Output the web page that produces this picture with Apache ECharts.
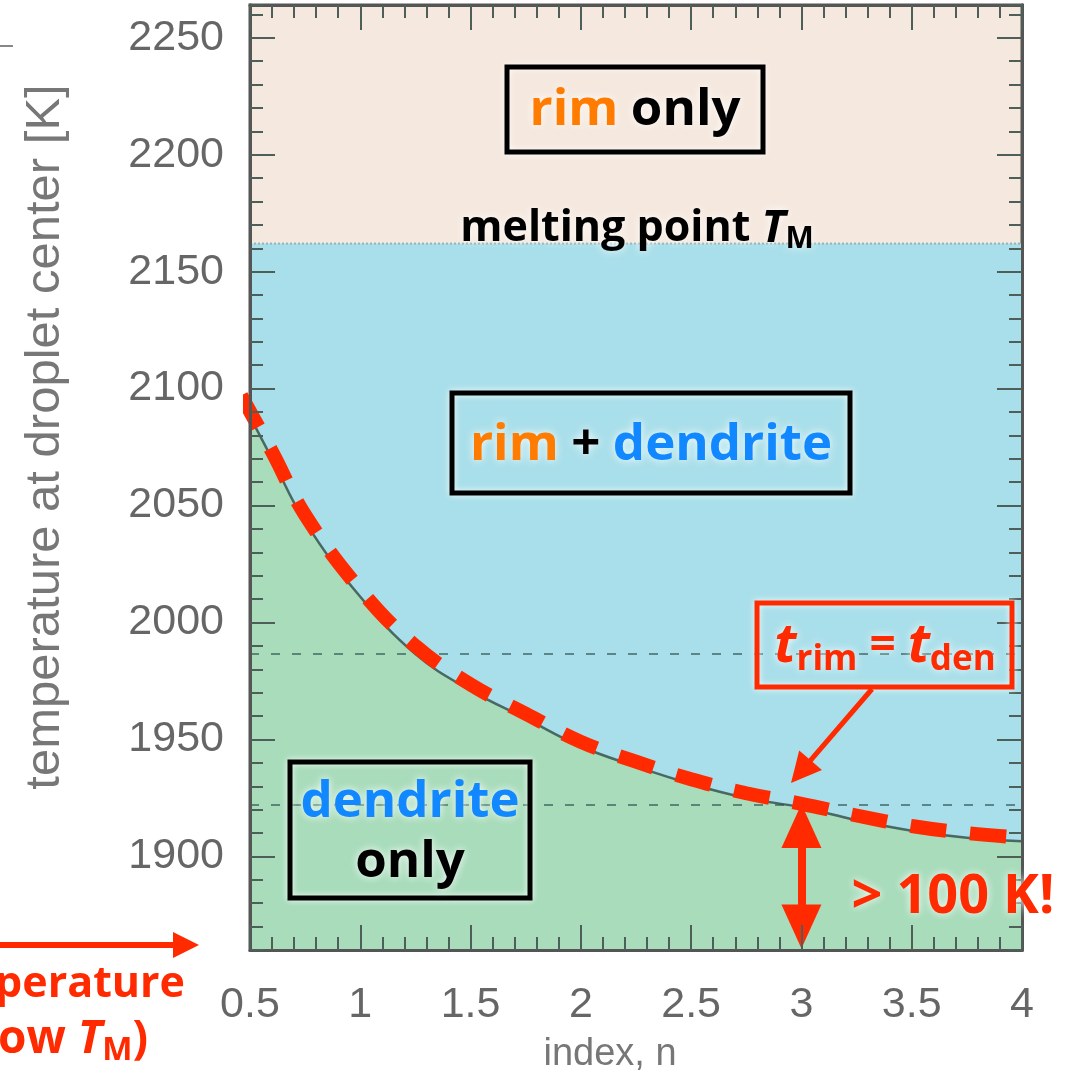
<!DOCTYPE html>
<html>
<head>
<meta charset="utf-8">
<script src="https://cdn.jsdelivr.net/npm/echarts@6/dist/echarts.min.js"></script>
<style>
  html, body { margin: 0; padding: 0; background: #fff; }
  #chart { width: 1075px; height: 1085px; }
</style>
</head>
<body>
<div id="chart"></div>
<script>
// boundary t_rim = t_den
const nBoundary = [0.5, 0.6, 0.75, 1, 1.25, 1.5, 1.75, 2, 2.25, 2.5, 2.75, 3, 3.25, 3.5, 3.75, 4]
const tBoundary = [2088, 2070, 2043, 2011, 1986.5, 1971, 1959, 1947, 1938.5, 1931, 1925, 1921, 1915.5, 1911, 1908, 1906.5]
// hand drawn red dashed overlay
const nRed = [0.46, 0.6, 0.75, 1, 1.25, 1.5, 1.75, 2, 2.25, 2.5, 2.75, 3, 3.25, 3.5, 3.75, 4]
const tRed = [2097, 2073, 2046, 2014, 1990, 1973.5, 1961, 1949, 1940.5, 1933, 1927, 1922.5, 1917.5, 1913, 1910, 1908]
const meltingPoint = 2162
const guideLines = [1986.5, 1922]
const gapArrow = [3, 1913, 1870] // n, top, bottom of the "> 100 K" arrow
const yMin = 1860
const yMax = 2264
const yMajorTicks = [1900, 1950, 2000, 2050, 2100, 2150, 2200, 2250]

const RED = '#ff2a00'
const ORANGE = '#ff7c00'
const BLUE_TXT = '#1188ff'
const FONT = '"Open Sans", Lato, sans-serif'

function zip (xs, ys) {
  return xs.map((x, i) => [x, ys[i]])
}

function arrowHead (x1, y1, x2, y2, len, half) {
  const dx = x2 - x1
  const dy = y2 - y1
  const d = Math.sqrt(dx * dx + dy * dy)
  const ux = dx / d
  const uy = dy / d
  const bx = x2 - ux * len
  const by = y2 - uy * len
  return [[x2, y2], [bx - uy * half, by + ux * half], [bx + uy * half, by - ux * half]]
}

function arrow (x1, y1, x2, y2, width, len, half) {
  const head = arrowHead(x1, y1, x2, y2, len, half)
  const d = Math.hypot(x2 - x1, y2 - y1)
  const ex = x1 + (x2 - x1) * (d - len * 0.8) / d
  const ey = y1 + (y2 - y1) * (d - len * 0.8) / d
  return [
    { type: 'line', shape: { x1, y1, x2: ex, y2: ey }, style: { stroke: RED, lineWidth: width }, z: 100 },
    { type: 'polygon', shape: { points: head }, style: { fill: RED }, z: 100 }
  ]
}

const glow = { textShadowColor: 'rgba(255,255,255,0.95)', textShadowBlur: 8 }

function label (x, y, rich, text, align) {
  return {
    type: 'text',
    x,
    y,
    z: 100,
    style: Object.assign({
      text,
      rich,
      align: align || 'center',
      verticalAlign: 'middle',
      textAlign: align || 'center',
      textVerticalAlign: 'middle',
      font: 'bold 48px ' + FONT
    }, glow)
  }
}

function box (x, y, w, h, color) {
  return {
    type: 'rect',
    z: 99,
    shape: { x, y, width: w, height: h },
    style: { fill: 'none', stroke: color, lineWidth: 5, shadowColor: 'rgba(255,255,255,0.9)', shadowBlur: 6 }
  }
}

const tok = (size, color, extra) => Object.assign({
  fontSize: size, fontWeight: 'bold', fontFamily: FONT, fill: color, lineHeight: 60
}, glow, extra || {})

const richMain = {
  o: tok(51, ORANGE),
  k: tok(51, '#000'),
  b: tok(51, BLUE_TXT)
}
const richMelt = {
  k: tok(43, '#000', { lineHeight: 50 }),
  T: tok(45, '#000', { fontStyle: 'italic', lineHeight: 50 }),
  M: tok(30, '#000', { verticalAlign: 'bottom', lineHeight: 50 })
}
const richT = {
  t: tok(54, RED, { fontStyle: 'italic', lineHeight: 62 }),
  s: tok(35, RED, { verticalAlign: 'bottom', lineHeight: 62 }),
  e: tok(46, RED, { lineHeight: 62 })
}
const richLeft = {
  r: tok(43, RED, { lineHeight: 52 }),
  T: tok(43, RED, { fontStyle: 'italic', lineHeight: 52 }),
  M: tok(30, RED, { verticalAlign: 'bottom', lineHeight: 52 })
}
const richLeft2 = {
  r: tok(46, RED, { lineHeight: 54 }),
  T: tok(46, RED, { fontStyle: 'italic', lineHeight: 54 }),
  M: tok(32, RED, { verticalAlign: 'bottom', lineHeight: 54 })
}

const tickStyle = { color: '#4e5e58', width: 2 }
const labelStyle = { color: '#666', fontSize: 43, fontFamily: '"Liberation Sans", sans-serif' }

function yAxisDef (position, major, withLabels) {
  const ax = {
    type: 'value',
    position,
    min: yMin,
    max: yMax,
    z: 10,
    axisLine: { show: true, lineStyle: { color: '#555', width: 3 } },
    splitLine: { show: false },
    axisTick: { show: true, inside: true, length: major ? 25 : 13, lineStyle: tickStyle },
    axisLabel: { show: false }
  }
  if (major) {
    ax.axisTick.customValues = yMajorTicks
    ax.axisLabel = Object.assign({
      show: withLabels,
      customValues: yMajorTicks,
      margin: 26,
      formatter: v => String(v)
    }, labelStyle)
  } else {
    ax.interval = 10
  }
  return ax
}

function xAxisDef (position, withLabels) {
  return {
    type: 'value',
    position,
    min: 0.5,
    max: 4,
    interval: 0.5,
    z: 10,
    axisLine: { show: true, lineStyle: { color: '#555', width: 3 } },
    splitLine: { show: false },
    axisTick: { show: true, inside: true, length: 25, lineStyle: tickStyle },
    minorTick: { show: true, splitNumber: 5, length: 13, lineStyle: tickStyle },
    axisLabel: Object.assign({ show: withLabels, margin: 34, formatter: v => String(v) }, labelStyle)
  }
}

const option = {
  animation: false,
  backgroundColor: '#fff',
  grid: {
    left: 250,
    right: 53,
    top: 5,
    bottom: 135,
    show: true,
    backgroundColor: '#f5e8de',
    borderColor: '#555',
    borderWidth: 3
  },
  xAxis: [xAxisDef('bottom', true), xAxisDef('top', false)],
  yAxis: [
    yAxisDef('left', false, false),
    yAxisDef('left', true, true),
    yAxisDef('right', false, false),
    yAxisDef('right', true, false)
  ],
  series: [
    {
      name: 'below melting point',
      type: 'line',
      data: [[0.5, meltingPoint], [4, meltingPoint]],
      showSymbol: false,
      z: 1,
      lineStyle: { color: '#8fb5bd', width: 2, type: 'dotted' },
      areaStyle: { color: '#a9dfea', origin: 'start', opacity: 1 }
    },
    {
      name: 'boundary',
      type: 'line',
      data: zip(nBoundary, tBoundary),
      smooth: 0.4,
      showSymbol: false,
      z: 2,
      lineStyle: { color: 'rgba(55,85,78,0.85)', width: 2.5 },
      areaStyle: { color: '#a8dcbb', origin: 'start', opacity: 1 },
      markLine: {
        silent: true,
        symbol: 'none',
        label: { show: false },
        lineStyle: { color: 'rgba(40,75,72,0.6)', width: 2, type: [9, 12] },
        data: guideLines.map(v => ({ yAxis: v }))
      }
    },
    {
      name: 't_rim = t_den',
      type: 'line',
      data: zip(nRed, tRed),
      smooth: 0.4,
      showSymbol: false,
      clip: false,
      z: 5,
      lineStyle: { color: RED, width: 14, type: [36, 24], cap: 'butt' },
      markLine: {
        silent: true,
        symbol: ['triangle', 'triangle'],
        symbolSize: [40, 44],
        label: { show: false },
        lineStyle: { color: RED, width: 8, type: 'solid' },
        itemStyle: { color: RED },
        data: [[{ coord: [gapArrow[0], gapArrow[1]] }, { coord: [gapArrow[0], gapArrow[2]] }]]
      }
    }
  ],
  graphic: [
    { type: 'line', shape: { x1: 0, y1: 46, x2: 13, y2: 46 }, style: { stroke: '#888', lineWidth: 2 } },
    {
      type: 'text', x: 45, y: 437, rotation: Math.PI / 2,
      style: { text: 'temperature at droplet center [K]', font: '49px "Liberation Sans", sans-serif', fill: '#777', align: 'center', verticalAlign: 'middle', textAlign: 'center', textVerticalAlign: 'middle' }
    },
    {
      type: 'text', x: 610, y: 1055,
      style: { text: 'index, n', font: '38px "Liberation Sans", sans-serif', fill: '#777', align: 'center', verticalAlign: 'middle', textAlign: 'center', textVerticalAlign: 'middle' }
    },
    box(507, 67, 256, 85, '#000'),
    label(635, 110, richMain, '{o|rim} {k|only}'),
    label(637, 229, richMelt, '{k|melting point }{T|T}{M|M}'),
    box(452, 393, 398, 100, '#000'),
    label(651, 445, richMain, '{o|rim} {k|+} {b|dendrite}'),
    box(290, 762, 240, 136, '#000'),
    label(410, 802, richMain, '{b|dendrite}'),
    label(410, 862, richMain, '{k|only}'),
    box(757, 603, 255, 84, RED),
    label(885, 647, richT, '{t|t}{s|rim}{e| = }{t|t}{s|den}'),
    ...arrow(872, 689, 791, 783, 5, 30, 15),
    label(953, 898, { r: tok(54, RED) }, '{r|> 100 K!}'),
    ...arrow(0, 945, 199, 945, 6, 26, 13),
    label(185, 985, richLeft, '{r|temperature}', 'right'),
    label(148, 1040, richLeft2, '{r|(below }{T|T}{M|M}{r|)}', 'right')
  ]
}

const chart = echarts.init(document.getElementById('chart'))
chart.setOption(option)
</script>
</body>
</html>
